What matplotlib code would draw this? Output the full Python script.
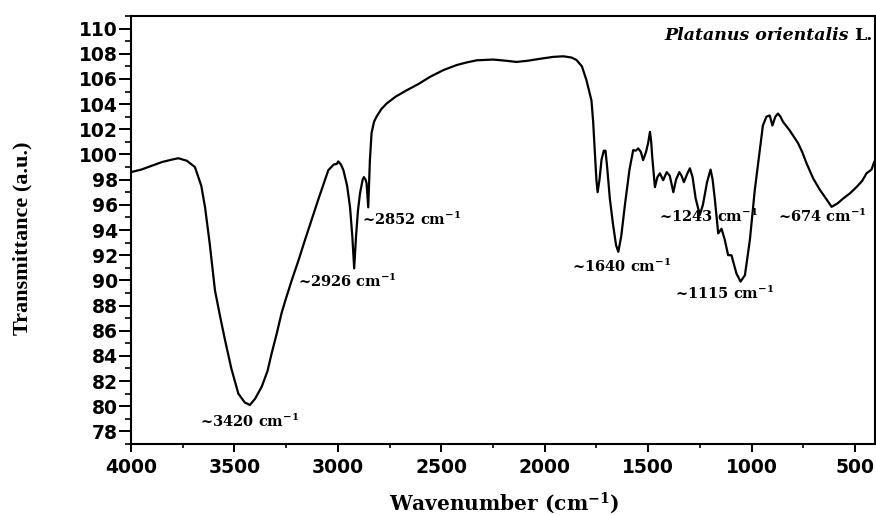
import matplotlib
matplotlib.use("Agg")
import matplotlib.pyplot as plt
from matplotlib.ticker import MultipleLocator

# FTIR spectrum
wavenumber = [
    4000, 3950, 3900, 3850, 3800, 3771, 3730, 3691, 3660, 3642, 3620, 3594,
    3570, 3546, 3515, 3481, 3450, 3425, 3400, 3368, 3340, 3320, 3295, 3272,
    3250, 3223, 3190, 3159, 3125, 3095, 3070, 3046, 3020, 3005, 2998, 2985,
    2973, 2955, 2941, 2930, 2921, 2912, 2903, 2893, 2880, 2874, 2866, 2861,
    2853, 2848, 2845, 2837, 2825, 2813, 2790, 2764, 2720, 2667, 2610, 2555,
    2490, 2426, 2380, 2329, 2249, 2190, 2136, 2080, 2023, 1960, 1910, 1870,
    1846, 1820, 1798, 1774, 1766, 1757, 1750, 1744, 1735, 1725, 1714, 1706,
    1698, 1685, 1670, 1655, 1644, 1630, 1612, 1590, 1572, 1560, 1548, 1535,
    1524, 1510, 1500, 1491, 1485, 1480, 1467, 1455, 1443, 1427, 1410, 1395,
    1378, 1365, 1349, 1338, 1327, 1310, 1298, 1285, 1270, 1250, 1235, 1215,
    1198, 1188, 1177, 1161, 1145, 1129, 1113, 1097, 1073, 1053, 1032, 1008,
    984, 960, 945, 928, 912, 899, 885, 872, 860, 848, 815, 775,
    755, 734, 702, 670, 640, 613, 585, 557, 525, 493, 465, 444,
    420, 407,
]
transmittance = [
    98.6, 98.8, 99.1, 99.4, 99.6, 99.7, 99.5, 99.0, 97.5, 95.8, 93.0, 89.2,
    87.2, 85.3, 83.0, 81.0, 80.3, 80.1, 80.6, 81.55, 82.8, 84.2, 85.8, 87.4,
    88.6, 90.0, 91.6, 93.2, 94.9, 96.4, 97.6, 98.75, 99.2, 99.25, 99.45, 99.2,
    98.75, 97.5, 95.8, 93.5, 90.95, 93.5, 95.5, 96.9, 98.0, 98.2, 98.0, 97.7,
    95.8, 98.0, 99.55, 101.7, 102.6, 103.0, 103.6, 104.05, 104.6, 105.1, 105.6, 106.16,
    106.7, 107.1, 107.3, 107.48, 107.54, 107.45, 107.35, 107.45, 107.6, 107.75, 107.8, 107.7,
    107.5, 107.0, 105.9, 104.3, 102.7, 100.1, 98.0, 97.0, 98.0, 99.6, 100.3, 100.3,
    99.0, 96.5, 94.5, 92.8, 92.27, 93.5, 96.0, 98.8, 100.35, 100.3, 100.48, 100.2,
    99.55, 100.2, 100.9, 101.8, 101.0, 99.8, 97.4, 98.2, 98.5, 97.96, 98.6, 98.3,
    97.0, 98.0, 98.6, 98.3, 97.8, 98.5, 98.9, 98.2, 96.5, 95.2, 96.0, 97.8,
    98.8, 98.0, 96.4, 93.73, 94.1, 93.2, 92.0, 92.0, 90.55, 89.9, 90.4, 93.2,
    97.2, 100.3, 102.3, 103.0, 103.1, 102.3, 103.0, 103.25, 103.0, 102.6, 101.9, 100.9,
    100.2, 99.3, 98.1, 97.2, 96.5, 95.84, 96.1, 96.5, 96.9, 97.4, 97.9, 98.5,
    98.8, 99.4,
]

# band labels: text, x, y, alignment
peak_labels = ["~3420", "~2926", "~2852", "~1640", "~1243", "~1115", "~674"]
label_x = [3425, 3193, 2883, 1870, 1448, 1371, 871]
label_y = [78.8, 89.9, 94.85, 91.1, 95.05, 89.0, 95.05]
label_ha = ["center", "left", "left", "left", "left", "left", "left"]

x_ticks = [4000, 3500, 3000, 2500, 2000, 1500, 1000, 500]
y_ticks = list(range(78, 111, 2))

plt.rcParams["mathtext.fontset"] = "dejavuserif"
plt.rcParams["mathtext.default"] = "bf"

fig = plt.figure(figsize=(8.76, 5.15), dpi=100)
ax = fig.add_axes([131 / 876, 1 - 444 / 515, 744 / 876, 428 / 515])

ax.plot(wavenumber, transmittance, color="black", lw=1.6)

ax.set_xlim(4000, 403)
ax.set_ylim(77.0, 111.0)
ax.set_xticks(x_ticks)
ax.set_yticks(y_ticks)
ax.xaxis.set_minor_locator(MultipleLocator(250))
ax.yaxis.set_minor_locator(MultipleLocator(1))
ax.tick_params(axis="y", which="major", direction="out", length=8.5, width=1.4, pad=1)
ax.tick_params(axis="y", which="minor", direction="out", length=4.3, width=1.2)
ax.tick_params(axis="x", which="major", direction="out", length=6, width=1.4, pad=4)
ax.tick_params(axis="x", which="minor", direction="out", length=3, width=1.2)
for lab in ax.get_xticklabels() + ax.get_yticklabels():
    lab.set_fontfamily("DejaVu Sans")
    lab.set_fontweight("bold")
    lab.set_fontsize(13.5)
for s in ax.spines.values():
    s.set_linewidth(1.5)

for txt, x, y, ha in zip(peak_labels, label_x, label_y, label_ha):
    ax.text(x, y, txt + r" cm$^{-1}$", ha=ha, va="center", fontsize=10.5,
            fontweight="bold", family="DejaVu Serif", clip_on=False)

# sample name, top right
t_l = ax.text(0.997, 0.955, "L.", transform=ax.transAxes, ha="right", va="center",
              fontsize=12.5, fontweight="bold", family="DejaVu Serif")
ax.annotate("Platanus orientalis ", xy=(0, 0.5), xycoords=t_l, ha="right",
            va="center", fontsize=12.5, fontweight="bold", fontstyle="italic",
            family="DejaVu Serif")

fig.text(22 / 876, 1 - 238 / 515, "Transmittance (a.u.)", rotation=90,
         ha="center", va="center", fontsize=16, fontweight="bold",
         family="Liberation Serif")
fig.text(504 / 876, 1 - 503 / 515, r"Wavenumber (cm$^{-1}$)", ha="center",
         va="center", fontsize=14.5, fontweight="bold", family="DejaVu Serif")

fig.savefig("out.png", dpi=100, facecolor="white")
